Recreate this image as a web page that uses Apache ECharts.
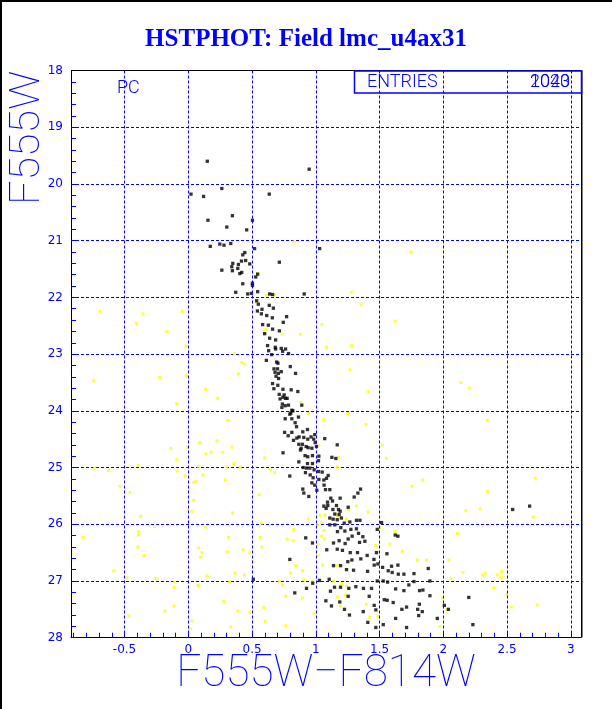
<!DOCTYPE html>
<html><head><meta charset="utf-8">
<script src="https://cdn.jsdelivr.net/npm/echarts@6/dist/echarts.min.js"></script>
<style>html,body{margin:0;padding:0;background:#fff;overflow:hidden}#c{width:612px;height:709px}</style>
</head><body><div id="c"></div>
<script>
const titleText = 'HSTPHOT: Field lmc_u4ax31';
const xTitle = 'F555W\u2212F814W';
const yTitle = 'F555W';
const xTickLabels = [-0.5, 0, 0.5, 1, 1.5, 2, 2.5, 3];
const yTickLabels = [18, 19, 20, 21, 22, 23, 24, 25, 26, 27, 28];
const entriesA = '1040';
const entriesB = '2023';

const blackStars = [
[0.149,19.60],[0.948,19.74],
[0.263,20.08],[0.021,20.18],[0.12,20.22],[0.635,20.18],[0.346,20.56],[0.154,20.64],[0.503,20.64],[0.302,20.76],[0.458,20.81],
[0.172,21.10],[0.247,21.06],[0.28,21.08],[0.333,21.05],[0.443,21.21],[0.427,21.25],[0.52,21.14],[1.03,21.14],
[0.714,21.38],[0.417,21.36],[0.393,21.42],[0.349,21.40],[0.341,21.46],[0.388,21.49],[0.45,21.35],[0.482,21.41],[0.263,21.52],[0.346,21.53],[0.419,21.56],[0.404,21.58],[0.544,21.59],[0.529,21.64],[0.503,21.75],[0.503,21.79],[0.427,21.76],[0.544,21.90],[0.372,21.91],[0.466,21.94],[0.495,21.93],[0.638,21.94],[0.661,21.95],[0.909,21.94],
[0.536,22.06],[0.549,22.12],[0.578,22.21],[0.635,22.14],[0.667,22.19],[0.542,22.24],[0.573,22.29],[0.615,22.32],[0.771,22.34],[0.659,22.36],[0.745,22.44],[0.583,22.48],[0.628,22.49],[0.661,22.56],[0.714,22.59],[0.599,22.64],[0.638,22.72],[0.685,22.75],[0.622,22.85],[0.682,22.88],[0.685,22.91],[0.729,22.90],[0.763,22.91],[0.74,22.95],[0.63,22.94],[0.654,23.01],[0.786,22.99],[0.612,23.11],[0.693,23.14],[0.703,23.16],[0.8,23.22],[0.672,23.26],[0.70,23.26],[0.729,23.31],[0.68,23.32],[0.706,23.34],[0.841,23.34],[0.688,23.39],[0.708,23.43],
[0.661,23.52],[0.671,23.61],[0.702,23.55],[0.742,23.62],[0.807,23.63],[0.859,23.66],[0.713,23.71],[0.742,23.76],[0.752,23.72],[0.762,23.78],[0.775,23.78],[0.72,23.79],[0.738,23.88],[0.76,23.91],[0.786,23.90],[0.89,23.90],[0.734,23.94],[0.812,23.99],[0.804,24.04],[0.82,24.00],[0.796,24.06],[0.864,24.11],[0.812,24.14],[0.76,24.14],[0.838,24.21],[0.849,24.28],[0.755,24.38],[0.812,24.38],[0.898,24.37],[0.935,24.33],[0.783,24.44],[0.825,24.52],[0.851,24.48],[0.869,24.46],[0.906,24.47],[0.937,24.50],[0.963,24.46],[0.992,24.42],[0.984,24.50],[0.995,24.56],[1.07,24.49],[0.867,24.59],[0.895,24.59],[0.924,24.63],[0.94,24.65],[0.885,24.66],[0.969,24.66],[1.005,24.63],[1.168,24.60],
[0.743,24.74],[0.916,24.79],[0.937,24.81],[0.974,24.79],[1.024,24.80],[1.126,24.82],[1.157,24.84],[0.880,24.69],[0.867,24.90],[0.935,24.93],[0.974,24.93],[1.021,24.88],[0.901,25.00],[0.927,25.01],[0.953,25.01],[0.987,25.04],[1.021,25.07],[1.05,25.08],[0.796,25.15],[0.919,25.09],[0.956,25.13],[0.979,25.18],[1.024,25.21],[1.063,25.22],[1.097,25.14],[1.084,25.19],[0.969,25.27],[0.992,25.31],[1.065,25.31],[0.898,25.38],[1.076,25.39],[1.11,25.39],[0.906,25.45],[1.008,25.40],[1.351,25.38],[1.118,25.54],[1.191,25.54],[1.092,25.61],[1.131,25.59],[1.094,25.67],[1.063,25.68],[1.162,25.67],[1.081,25.72],[1.134,25.74],[1.178,25.74],[1.191,25.77],[1.254,25.70],[0.945,25.51],[1.301,25.52],[1.33,25.45],[1.149,25.82],[1.183,25.83],[1.11,25.89],[1.136,25.91],[1.168,25.92],[1.201,25.89],[1.11,26.01],[1.149,26.01],[1.223,25.98],[1.267,25.96],[1.319,25.93],[1.346,25.93],[1.196,26.06],[1.275,26.09],[1.319,26.08],[1.17,26.13],[1.228,26.12],[1.335,26.16],[1.369,26.22],[1.285,26.21],[1.516,25.97],[1.482,26.09],[1.623,26.19],[1.644,26.21],[1.183,26.29],[1.139,26.33],[1.254,26.26],[1.23,26.34],[1.343,26.32],[1.385,26.30],[1.168,26.44],[1.209,26.46],[1.27,26.50],[1.327,26.50],[1.403,26.55],[1.476,26.50],[1.558,26.52],[1.086,26.45],[0.921,26.24],[0.974,26.33],[0.796,26.62],[1.283,26.63],[1.353,26.61],[1.251,26.66],[1.456,26.62],[1.487,26.70],[1.458,26.72],[1.524,26.76],[1.594,26.74],[1.644,26.72],[1.568,26.82],[1.139,26.73],[1.194,26.73],[1.241,26.80],[1.296,26.81],[1.406,26.83],[1.599,26.85],[1.647,26.88],[1.691,26.88],[1.77,26.87],[1.882,26.78],[0.51,26.97],[1.105,26.97],[1.029,26.99],[0.976,27.04],[0.927,27.13],[0.835,27.21],[1.115,27.18],[1.147,27.11],[1.194,27.11],[1.259,27.13],[1.314,27.10],[1.374,27.13],[1.437,27.13],[1.482,27.00],[1.529,27.00],[1.563,27.02],[1.626,27.14],[1.691,27.17],[1.73,27.07],[1.77,27.01],[1.814,27.17],[1.84,27.16],[1.895,27.00],[1.895,27.26],[1.419,27.27],[1.254,27.27],[1.188,27.37],[1.079,27.35],[1.123,27.44],[1.225,27.50],[1.264,27.60],[1.372,27.54],[1.458,27.43],[1.471,27.51],[1.537,27.33],[1.56,27.34],[1.607,27.38],[1.675,27.50],[1.626,27.66],[1.712,27.46],[1.812,27.41],[1.807,27.61],[1.799,27.50],[1.835,27.54],[2.008,27.43],[1.953,27.66],[1.408,27.73],[1.529,27.77],[1.471,27.82],[1.712,27.82],
[2.544,25.74],[2.677,25.68],[2.2,27.29],[2.232,27.77],[2.04,27.50]
];

const yellowStars = [
[0.83,21.02],[0.544,21.58],[0.677,21.96],[0.615,21.96],[1.281,21.91],[1.354,22.12],[-0.049,22.25],[0.529,22.09],[1.049,22.48],[0.607,22.57],[0.737,22.65],[0.878,22.65],[1.083,22.88],[1.281,22.85],[-0.018,22.86],[0.362,22.99],[0.419,23.15],[0.44,23.18],[0.393,23.35],[-0.016,23.38],[1.268,23.28],
[1.747,21.20],[1.622,22.42],
[-0.692,22.25],[-0.355,22.29],[-0.407,22.46],[-0.167,22.60],[-0.742,23.47],[-0.225,23.41],
[0.88,23.85],[0.943,24.05],[1.06,24.16],[0.308,24.17],[0.136,23.62],[0.23,23.78],[-0.091,23.87],[0.089,24.56],[0.225,24.53],[0.342,24.64],[-0.138,24.66],[-0.005,24.65],[1.02,24.61],
[1.409,23.66],[2.138,23.50],[2.203,23.60],[1.25,24.05],[1.393,24.24],[2.346,24.17],[1.523,24.60],[2.346,25.42],[2.721,25.19],
[0.599,24.83],[0.644,25.04],[0.678,25.09],[0.555,25.48],[0.942,25.91],[1.047,25.97],[1.016,26.02],[1.031,25.84],[1.555,24.84],[1.178,24.82],[1.17,24.99],[1.754,25.33],[1.838,25.22],[1.319,25.68],[1.411,25.78],[1.257,25.74],[1.238,25.91],[1.071,25.84],[1.168,25.84],[0.573,25.98],[0.563,26.23],[0.579,26.40],[0.827,26.09],[0.825,26.29],[0.775,26.26],[1.065,26.11],[1.068,26.26],[1.045,26.21],[1.018,26.36],[1.016,26.55],[1.503,26.06],[1.62,26.13],[1.581,26.35],[1.678,26.48],[1.469,26.37],[0.508,26.66],[0.843,26.73],[0.895,26.82],[0.801,26.86],[1.052,26.72],[1.165,26.73],[1.798,26.63],[1.869,26.63],[2.042,26.63],[0.712,27.00],[0.738,27.07],[0.906,26.98],[0.974,27.01],[1.141,27.00],[1.202,27.05],[1.241,27.09],[0.764,27.27],[1.17,27.28],[1.23,27.25],[0.895,27.30],[1.395,27.41],[1.424,27.64],[0.592,27.47],[0.602,27.71],[0.764,27.79],[0.987,27.57],[1.487,27.62],[1.974,27.80],[1.995,27.30],[2.029,27.50],[1.194,27.44],[0.482,26.50],[0.482,27.55],
[0.138,24.76],[0.178,24.73],[0.269,24.73],[-0.089,24.86],[-0.394,24.96],[-0.734,25.01],[-0.624,25.05],[-0.089,25.06],[0.081,24.98],[0.30,24.99],[0.358,24.93],[0.407,24.99],[-0.026,25.15],[0.115,25.13],[0.044,25.26],[0.063,25.24],[0.292,25.22],[-0.535,25.33],[-0.457,25.44],[0.042,25.58],[0.347,25.80],[-0.003,25.75],[0.029,25.77],[-0.373,25.86],[-0.264,26.04],[0.138,26.05],[-0.389,26.13],[-0.392,26.19],[-0.825,26.23],[0.316,26.23],[-0.394,26.40],[-0.347,26.55],[0.081,26.42],[0.107,26.50],[0.097,26.58],[0.308,26.49],[0.428,26.45],[-0.585,26.82],[-0.483,26.94],[-0.253,26.96],[-0.107,27.02],[-0.112,27.11],[0.076,27.08],[0.149,26.91],[0.366,26.86],[0.441,26.89],[0.324,27.02],[0.279,27.36],[-0.112,27.44],[-0.185,27.53],[-0.467,27.62],[0.029,27.70],[0.018,27.84],[0.389,27.53],[0.332,27.81],
[2.177,25.76],[2.289,25.73],[2.706,25.87],[2.112,26.16],[2.154,26.85],[2.307,26.90],[2.326,26.87],[2.424,26.89],[2.456,26.83],[2.456,26.94],[2.396,27.12],[2.495,27.24],[2.534,27.46],[2.737,27.42],[2.06,26.96]
];

const BLUE = '#0000ff';
const thinFont = 'Roboto, "DejaVu Sans", sans-serif';
const xMinor = [];
for (let i = -9; i <= 30; i++) xMinor.push(Math.round(i) / 10);

const chart = echarts.init(document.getElementById('c'), null, {renderer: 'canvas'});
chart.setOption({
  animation: false,
  backgroundColor: '#ffffff',
  title: {
    text: titleText, left: 'center', top: 22,
    textStyle: {fontFamily: '"Liberation Serif", serif', fontWeight: 'bold', fontSize: 25, color: BLUE}
  },
  grid: {left: 71, top: 70.5, width: 510, height: 567.2, show: false},
  xAxis: {
    type: 'value', min: -0.92, max: 3.08,
    axisLine: {show: true, onZero: false, lineStyle: {color: '#000', width: 1}},
    axisTick: {show: true, inside: true, length: 5, customValues: xMinor, lineStyle: {color: BLUE, width: 1}},
    axisLabel: {show: true, customValues: xTickLabels, color: BLUE, fontSize: 12, margin: 6,
      fontFamily: '"DejaVu Sans", sans-serif', formatter: v => String(v)},
    splitLine: {show: false}
  },
  yAxis: {
    type: 'value', inverse: true, min: 18, max: 28, interval: 1,
    axisLine: {show: true, onZero: false, lineStyle: {color: '#000', width: 1}},
    axisTick: {show: true, inside: true, length: 5, lineStyle: {color: BLUE}},
    minorTick: {show: true, splitNumber: 5, length: 5, lineStyle: {color: BLUE}},
    axisLabel: {show: true, color: BLUE, fontSize: 12, margin: 8, fontFamily: '"DejaVu Sans", sans-serif',
      customValues: yTickLabels},
    splitLine: {show: true, lineStyle: {color: BLUE, type: [3, 2], width: 1}}
  },
  series: [
    {
      type: 'scatter', name: 'grid', data: [], silent: true,
      markLine: {
        silent: true, symbol: 'none', animation: false, label: {show: false},
        lineStyle: {color: BLUE, type: [3, 2], width: 1},
        data: xTickLabels.map(v => ({xAxis: v}))
      }
    },
    {
      type: 'scatter', name: 'other', data: yellowStars, symbol: 'rect', symbolSize: 3,
      itemStyle: {color: '#ffff00'}, silent: true, z: 3
    },
    {
      type: 'scatter', name: 'cmd', data: blackStars, symbol: 'rect', symbolSize: 3.3,
      itemStyle: {color: '#000000'}, silent: true, z: 4
    }
  ],
  graphic: [
    {type: 'rect', shape: {x: 0, y: 0, width: 2, height: 709}, style: {fill: '#000'}, silent: true},
    {type: 'rect', shape: {x: 0, y: 0, width: 612, height: 2}, style: {fill: '#000'}, silent: true},
    {type: 'rect', shape: {x: 581, y: 70.5, width: 1.5, height: 567}, style: {fill: '#000'}, silent: true, z: 10},
    {type: 'rect', shape: {x: 71, y: 70, width: 510, height: 1}, style: {fill: '#000'}, silent: true, z: 1},
    {type: 'rect', shape: {x: 354.5, y: 71, width: 227, height: 22}, style: {fill: 'none', stroke: BLUE, lineWidth: 1.5}, silent: true, z: 20},
    {type: 'text', x: 367, y: 82, style: {text: 'ENTRIES', fill: BLUE, font: '300 18px ' + thinFont, textVerticalAlign: 'middle'}, silent: true, z: 20},
    {type: 'text', x: 570, y: 82, style: {text: entriesA, fill: BLUE, font: '300 18px ' + thinFont, textAlign: 'right', textVerticalAlign: 'middle'}, silent: true, z: 20},
    {type: 'text', x: 570, y: 82, style: {text: entriesB, fill: BLUE, font: '300 18px ' + thinFont, textAlign: 'right', textVerticalAlign: 'middle'}, silent: true, z: 20},
    {type: 'text', x: 117, y: 88, style: {text: 'PC', fill: BLUE, font: '300 18px ' + thinFont, textVerticalAlign: 'middle'}, silent: true, z: 20},
    {type: 'text', x: 28, y: 138, rotation: Math.PI / 2, style: {text: yTitle, fill: BLUE, font: '100 43px ' + thinFont, textAlign: 'center', textVerticalAlign: 'middle'}, silent: true, z: 20},
    {type: 'text', x: 326, y: 675, style: {text: xTitle, fill: BLUE, font: '100 44px ' + thinFont, textAlign: 'center', textVerticalAlign: 'middle'}, silent: true, z: 20}
  ]
});
</script>
</body></html>
